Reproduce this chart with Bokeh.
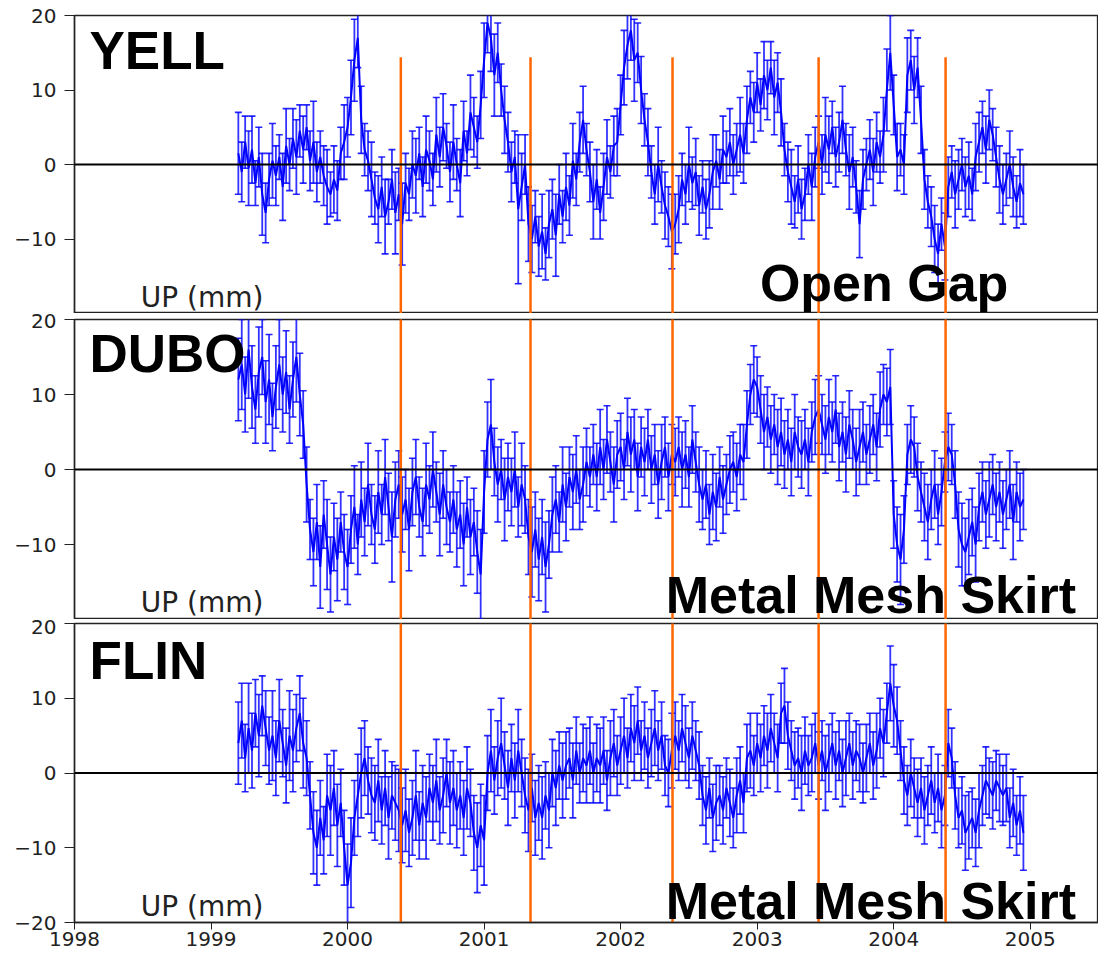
import numpy as np
from bokeh.plotting import figure
from bokeh.layouts import column
from bokeh.models import Range1d, FixedTicker, Span, Label
from bokeh.embed import file_html
from bokeh.resources import INLINE

# ---------------- data ----------------
T_START = 1999.20      # first epoch (decimal year)
T_STEP = 0.025         # sampling interval (years)

YELL_UP = [
    1.5, -1.0, 3.0, -0.5, 2.0, -2.5, 1.0, -4.0,
    -6.5, -2.0, 0.5, -1.5, 1.0, -3.0, 2.5, 0.0,
    3.5, 1.0, 4.5, 2.0, 5.0, 0.5, 3.0, -1.0,
    1.0, -1.5, -3.0, -4.0, -2.0, -3.5, 1.5, 3.0,
    5.0, 9.0, 14.0, 17.0, 6.0, 2.0, 0.5, -2.0,
    -4.5, -6.0, -3.0, -7.0, -5.0, -2.0, -6.5, -4.0,
    -8.0, -2.5, -4.0, 0.0, -1.5, 1.5, -3.0, 2.0,
    0.5, -2.0, 4.0, 1.0, 5.0, 2.5, -1.0, 3.0,
    0.0, -2.5, 4.5, 1.5, 7.0, 5.0, 3.0, 8.0,
    14.0, 19.0, 17.0, 12.0, 15.0, 10.0, 6.0, 3.0,
    -1.0, 1.0, -6.0, -3.0, 0.0, -8.0, -10.0, -7.0,
    -11.0, -9.0, -12.0, -8.0, -6.0, -9.5, -4.0, -7.0,
    -3.0, -5.5, 0.5, -2.0, 3.0, 6.0, 2.0, -1.0,
    -5.0, -2.0, -6.5, -3.0, 1.0, -1.0, 2.5, 3.0,
    8.0, 13.0, 16.0, 18.0, 14.0, 15.0, 10.0, 6.0,
    3.0, -1.0, -4.0, 0.0, -3.0, -5.5, -7.0, -9.0,
    -8.0, -6.0, -2.0, -4.0, 0.0, -2.5, -1.0, -5.5,
    -3.0, -6.0, -4.0, -1.0, 0.5, -2.0, 2.0, 1.0,
    3.0, 0.0, 2.0, 4.0, 1.5, 6.0, 9.0, 7.0,
    11.0, 8.0, 12.0, 10.0, 13.0, 9.0, 11.0, 7.0,
    2.0, -1.0, -3.0, -5.0, -2.0, -6.0, -4.0, 0.0,
    -3.0, 1.0, 3.0, 0.0, 4.0, 2.0, 5.0, 1.0,
    3.0, 6.0, 2.0, -1.0, 1.0, -3.0, -8.0, -2.0,
    0.0, 2.0, -1.0, 3.0, 1.0, 4.0, 10.0, 15.0,
    8.0, 1.0, 2.0, 0.0, 12.0, 14.0, 10.0, 13.0,
    6.0, -2.0, -5.0, -7.0, -10.0, -12.0, -8.0, -11.0,
    -3.0, -1.0, -4.0, -2.0, 0.0, -3.0, -1.5, -4.0,
    1.0, 3.0, 5.0, 2.0, 6.0, 4.0, 1.0, -2.0,
    -4.0, -2.0, 0.0, -3.0, -5.0, -2.5, -4.0,
]
YELL_ERR = [
    5.5, 4.0, 3.5, 5.0, 4.5, 3.0, 4.0, 5.5,
    4.0, 3.5, 5.0, 4.0, 3.0, 4.5, 5.0, 3.5,
    4.0, 5.0, 3.5, 4.5, 3.0, 4.0, 5.5, 4.0,
    3.5, 4.0, 5.0, 3.0, 4.5, 4.0, 3.5, 5.0,
    4.0, 5.0, 5.5, 4.0, 4.5, 3.5, 4.0, 5.0,
    3.5, 4.5, 4.0, 5.0, 3.0, 4.0, 5.5, 3.5,
    5.5, 4.0, 3.5, 4.5, 5.0, 3.5, 4.0, 4.5,
    4.0, 3.5, 5.0, 4.0, 4.5, 3.0, 4.0, 5.0,
    3.5, 4.5, 4.0, 3.0, 5.0, 4.0, 3.5, 4.5,
    5.0, 4.0, 4.5, 5.5, 4.0, 3.5, 4.5, 4.0,
    4.0, 3.5, 10.0, 4.5, 4.0, 5.0, 4.5, 3.5,
    4.0, 5.0, 3.5, 4.5, 4.0, 5.5, 4.0, 3.5,
    4.5, 4.0, 5.0, 3.5, 4.0, 4.5, 3.5, 4.0,
    5.0, 4.0, 3.5, 4.5, 5.0, 3.5, 4.0, 4.5,
    4.0, 5.0, 4.5, 4.0, 5.5, 4.0, 4.5, 3.5,
    4.5, 3.5, 4.0, 5.0, 3.5, 4.5, 4.0, 5.0,
    4.0, 4.5, 3.5, 4.0, 5.0, 3.5, 4.5, 4.0,
    3.5, 4.0, 4.5, 5.0, 3.5, 4.0, 4.5, 3.5,
    4.5, 4.0, 3.5, 5.0, 4.0, 4.5, 3.5, 4.0,
    4.0, 3.5, 4.5, 4.0, 3.5, 5.0, 4.0, 4.5,
    3.5, 4.0, 5.0, 3.5, 4.5, 4.0, 3.5, 4.0,
    4.5, 4.0, 3.5, 4.0, 5.0, 4.5, 3.5, 4.0,
    4.0, 4.5, 3.5, 5.0, 4.0, 3.5, 4.5, 4.0,
    3.5, 4.0, 4.5, 4.0, 3.5, 5.0, 5.5, 5.0,
    4.0, 4.5, 3.5, 4.0, 5.0, 4.0, 4.5, 4.0,
    4.5, 4.0, 3.5, 4.0, 4.5, 4.0, 3.5, 4.5,
    4.0, 3.5, 4.5, 4.0, 3.5, 4.0, 4.5, 3.5,
    4.5, 4.0, 3.5, 4.5, 4.0, 3.5, 4.0, 4.5,
    4.0, 3.5, 4.5, 4.0, 3.5, 4.5, 4.0,
]

DUBO_UP = [
    12.0, 14.0, 10.0, 16.0, 11.0, 8.0, 13.0, 15.0,
    9.0, 12.0, 7.0, 11.0, 14.0, 10.0, 13.0, 8.0,
    12.0, 15.0, 10.0, 6.0, -2.0, -8.0, -11.0, -7.0,
    -13.0, -6.0, -10.0, -14.0, -9.0, -12.0, -7.0, -11.0,
    -13.0, -8.0, -5.0, -10.0, -4.0, -7.0, -2.0, -6.0,
    -8.0, -3.0, -6.0, -1.0, -5.0, -9.0, -4.0, -2.0,
    -6.0, -4.0, -8.0, -3.0, -1.0, -5.0, -7.0, -2.0,
    -4.0, 0.0, -3.0, -6.0, -2.0, -5.0, -7.0, -4.0,
    -8.0, -6.0, -10.0, -5.0, -9.0, -7.0, -11.0, -14.0,
    -3.0, 4.0, 6.0, 1.0, -2.0, 0.0, -4.0, -1.0,
    -3.0, 0.0, -5.0, -2.0, -4.0, -9.0, -11.0, -8.0,
    -12.0, -9.0, -13.0, -10.0, -6.0, -4.0, -7.0, -2.0,
    -5.0, -1.0, -3.0, 0.0, -4.0, -2.0, 1.0, -1.0,
    2.0, -1.0, 3.0, 0.0, 4.0, 1.0, -2.0, 2.0,
    3.0, 0.0, 5.0, 2.0, 4.0, -1.0, 3.0, 1.0,
    4.0, 0.0, 2.0, -2.0, 1.0, 3.0, -1.0, 2.0,
    1.0, 3.0, 0.0, 2.0, -1.0, 4.0, 1.0, -2.0,
    -4.0, -2.0, -6.0, -3.0, -5.0, -1.0, -4.0, -2.0,
    0.0, 1.0, -1.0, 2.0, 1.0, 6.0, 10.0, 12.0,
    11.0, 8.0, 5.0, 7.0, 4.0, 6.0, 3.0, 5.0,
    2.0, 4.0, 1.0, 5.0, 3.0, 2.0, 4.0, 1.0,
    5.0, 7.0, 8.0, 6.0, 4.0, 7.0, 5.0, 8.0,
    3.0, 5.0, 2.0, 6.0, 4.0, 1.0, 3.0, 5.0,
    2.0, 4.0, 6.0, 3.0, 8.0, 10.0, 9.0, 11.0,
    -6.0, -10.0, -12.0, -8.0, 2.0, 4.0, 3.0, -1.0,
    -3.0, -5.0, -7.0, -4.0, -2.0, -6.0, -3.0, 1.0,
    3.0, 2.0, -2.0, -8.0, -10.0, -11.0, -9.0, -7.0,
    -10.0, -5.0, -3.0, -6.0, -4.0, -2.0, -5.0, -3.0,
    -6.0, -4.0, -2.0, -7.0, -3.0, -5.0, -4.0,
]
DUBO_ERR = [
    5.5, 6.0, 5.0, 6.5, 5.5, 4.5, 6.0, 5.0,
    5.5, 6.0, 4.5, 5.5, 6.0, 5.0, 5.5, 4.5,
    5.0, 6.0, 5.5, 4.5, 5.0, 4.0, 4.5, 5.0,
    5.5, 4.5, 6.0, 5.0, 4.5, 5.5, 4.0, 5.0,
    5.0, 4.5, 5.5, 4.0, 5.0, 4.5, 5.5, 4.0,
    4.5, 5.5, 4.0, 5.0, 4.5, 6.0, 5.0, 4.5,
    5.0, 4.0, 5.5, 4.5, 5.0, 4.0, 4.5, 5.5,
    4.5, 5.0, 4.0, 5.5, 4.5, 5.0, 4.0, 4.5,
    5.0, 4.5, 5.5, 4.0, 5.0, 4.5, 5.5, 6.0,
    5.5, 5.0, 6.0, 4.5, 5.0, 4.0, 5.5, 4.5,
    4.5, 5.0, 4.0, 5.5, 4.5, 5.0, 6.0, 5.0,
    5.5, 5.0, 6.0, 4.5, 5.0, 4.5, 4.0, 5.0,
    4.5, 4.0, 5.0, 4.5, 4.0, 5.0, 4.5, 4.0,
    4.0, 4.5, 5.0, 4.0, 4.5, 4.0, 5.0, 4.5,
    4.5, 4.0, 4.5, 5.0, 4.0, 4.5, 4.0, 4.5,
    4.0, 4.5, 4.0, 4.5, 5.0, 4.0, 4.5, 4.0,
    4.5, 4.0, 5.0, 4.5, 4.0, 4.5, 4.0, 5.0,
    4.0, 4.5, 4.0, 5.0, 4.5, 4.0, 4.5, 4.0,
    4.5, 4.0, 4.5, 4.0, 5.0, 4.5, 4.0, 4.5,
    4.0, 4.5, 5.0, 4.0, 4.5, 4.0, 5.0, 4.5,
    4.5, 4.0, 4.5, 5.0, 4.0, 4.5, 4.0, 4.5,
    4.0, 5.0, 4.5, 4.0, 4.5, 5.0, 4.0, 4.5,
    4.5, 4.0, 5.0, 4.5, 4.0, 4.5, 5.0, 4.0,
    4.0, 4.5, 4.0, 4.5, 5.0, 4.0, 4.5, 5.0,
    4.5, 5.0, 6.0, 4.5, 4.0, 4.5, 4.0, 4.5,
    4.0, 4.5, 5.0, 4.0, 4.5, 4.0, 4.5, 4.0,
    4.5, 4.0, 4.5, 5.0, 5.5, 4.5, 5.0, 4.5,
    5.0, 4.5, 4.0, 4.5, 5.0, 4.0, 4.5, 4.0,
    4.5, 4.0, 4.5, 5.0, 4.0, 4.5, 4.0,
]

FLIN_UP = [
    4.0, 7.0, 2.0, 6.0, 3.0, 8.0, 5.0, 9.0,
    6.0, 3.0, 5.0, 2.0, 7.0, 4.0, 1.0, 5.0,
    3.0, 6.0, 8.0, 4.0, 2.0, -3.0, -8.0, -10.0,
    -6.0, -9.0, -3.0, -5.0, -2.0, -7.0, -4.0, -10.0,
    -15.0, -12.0, -6.0, -3.0, 0.0, 2.0, -1.0, -3.0,
    -4.0, -1.0, -5.0, -2.0, -6.0, -3.0, -4.0, -5.0,
    -7.0, -5.0, -8.0, -6.0, -3.0, -7.0, -4.0, -6.0,
    -2.0, -4.0, -1.0, -5.0, -3.0, 0.0, -4.0, -2.0,
    -5.0, -3.0, -6.0, -2.0, -4.0, -8.0, -10.0, -7.0,
    -9.0, 0.0, 3.0, -1.0, 2.0, 4.0, 1.0, -2.0,
    2.0, -1.0, 3.0, 0.0, -3.0, -5.0, -2.0, -6.0,
    -4.0, -6.0, -3.0, -5.0, 0.0, -2.0, 1.0, -1.0,
    1.0, 2.0, -1.0, 3.0, 0.0, 2.0, 1.0, 3.0,
    0.0, 2.0, 1.0, 3.0, -1.0, 2.0, 4.0, 1.0,
    3.0, 5.0, 2.0, 6.0, 4.0, 7.0, 3.0, 5.0,
    2.0, 4.0, 6.0, 3.0, 5.0, 1.0, 0.0, 3.0,
    5.0, 3.0, 6.0, 4.0, 2.0, 5.0, 3.0, 1.0,
    -3.0, -5.0, -2.0, -6.0, -4.0, -3.0, -5.0, -2.0,
    -4.0, -6.0, -3.0, -1.0, -4.0, 2.0, 3.0, 1.0,
    4.0, 2.0, 5.0, 3.0, 6.0, 4.0, 2.0, 8.0,
    9.0, 5.0, 3.0, 1.0, 2.0, 0.0, 3.0, 1.0,
    2.0, 4.0, 1.0, 3.0, 0.0, 2.0, 4.0, 1.0,
    3.0, 0.0, 2.0, 4.0, 1.0, 3.0, 2.0, 0.0,
    2.0, 4.0, 1.0, 3.0, 6.0, 4.0, 8.0, 12.0,
    9.0, 7.0, 3.0, -1.0, -3.0, 0.0, -2.0, -4.0,
    -2.0, -5.0, -3.0, -1.0, -4.0, -2.0, -5.0, -3.0,
    4.0, 2.0, -3.0, -6.0, -5.0, -8.0, -7.0, -6.0,
    -8.0, -5.0, -3.0, -1.0, -2.0, -3.0, -1.0, -2.0,
    -3.0, -2.0, -6.0, -4.0, -7.0, -5.0, -8.0,
]
FLIN_ERR = [
    5.5, 5.0, 4.5, 6.0, 5.0, 4.5, 5.5, 4.0,
    5.0, 4.5, 6.0, 5.0, 5.5, 4.5, 5.0, 6.0,
    5.5, 4.5, 5.0, 6.0, 5.0, 4.5, 5.5, 5.0,
    5.0, 4.5, 5.5, 6.0, 5.0, 5.5, 4.5, 5.0,
    5.5, 6.0, 5.0, 5.5, 6.0, 5.0, 4.5, 5.0,
    5.0, 5.5, 4.5, 5.0, 5.5, 4.5, 5.0, 5.5,
    5.0, 5.5, 4.5, 5.0, 6.0, 4.5, 5.0, 5.5,
    4.5, 5.0, 5.5, 4.5, 5.0, 4.5, 5.5, 5.0,
    5.0, 4.5, 5.0, 5.5, 4.5, 5.0, 6.0, 5.5,
    6.0, 5.0, 5.5, 4.5, 5.0, 6.0, 4.5, 5.0,
    4.5, 5.0, 5.5, 4.5, 5.0, 5.5, 4.5, 5.0,
    5.0, 5.5, 4.5, 5.0, 4.5, 5.0, 4.5, 5.0,
    4.5, 4.0, 5.0, 4.5, 4.0, 4.5, 5.0, 4.5,
    4.0, 4.5, 5.0, 4.5, 4.0, 5.0, 4.5, 4.0,
    4.5, 5.0, 4.0, 4.5, 5.0, 4.5, 4.0, 4.5,
    4.0, 4.5, 5.0, 4.0, 4.5, 4.0, 4.5, 5.0,
    4.5, 4.0, 4.5, 5.0, 4.0, 4.5, 4.0, 4.5,
    4.0, 4.5, 4.0, 4.5, 5.0, 4.0, 4.5, 4.0,
    4.5, 4.0, 5.0, 4.5, 4.0, 4.5, 5.0, 4.0,
    4.0, 4.5, 4.0, 5.0, 4.5, 4.0, 4.5, 4.0,
    5.0, 4.5, 4.0, 4.5, 4.0, 5.0, 4.5, 4.0,
    4.5, 4.0, 4.5, 4.0, 5.0, 4.5, 4.0, 4.5,
    4.0, 4.5, 5.0, 4.0, 4.5, 4.0, 4.5, 4.0,
    4.5, 4.0, 4.5, 5.0, 4.0, 4.5, 4.0, 5.0,
    5.5, 4.5, 4.0, 4.5, 4.0, 4.5, 4.0, 4.5,
    4.0, 4.5, 4.0, 4.5, 4.0, 4.5, 5.0, 4.0,
    4.5, 4.0, 4.5, 4.0, 4.5, 5.0, 4.5, 4.0,
    4.5, 5.0, 4.0, 4.5, 4.0, 4.5, 4.0, 4.5,
    4.0, 4.5, 4.0, 4.5, 4.0, 4.5, 5.0,
]

STATIONS = ["YELL", "DUBO", "FLIN"]
NOTES = ["Open Gap", "Metal Mesh Skirt", "Metal Mesh Skirt"]
EVENTS = [2000.39, 2001.34, 2002.38, 2003.45, 2004.38]   # orange markers
X_TICKS = [1998, 1999, 2000, 2001, 2002, 2003, 2004, 2005]
Y_TICKS_LAST = [-20, -10, 0, 10, 20]
Y_TICKS_UPPER = [-10, 0, 10, 20]
Y_LABEL = "UP (mm)"

SERIES = {"YELL": (YELL_UP, YELL_ERR), "DUBO": (DUBO_UP, DUBO_ERR), "FLIN": (FLIN_UP, FLIN_ERR)}
for k, (u, e) in SERIES.items():
    assert len(u) == len(e), (k, len(u), len(e))

# ---------------- layout / styling ----------------
BLUE = "#0000ff"
ORANGE = "#ff6600"
TICK_FONT = "DejaVu Sans"
BOLD_FONT = "Liberation Sans"
FRAME_W = 1024
FRAME_H = [298, 300, 299]
TOP_BORDER = [15, 6, 4]
LEFT_BORDER = 74
EVENT_TOP_FIRST = 14.4
# text anchors (data units of each panel)
NAME_Y = [15.25, 15.45, 15.1]
UNIT_Y = [-17.8, -17.7, -17.9]
NOTE_Y = [-15.9, -16.75, -17.15]
NOTE_X = [2003.02, 2002.33, 2002.33]


def make_panel(i):
    name = STATIONS[i]
    up, err = SERIES[name]
    up = np.array(up)
    err = np.array(err)
    t = T_START + T_STEP * np.arange(len(up))
    last = i == len(STATIONS) - 1

    p = figure(frame_width=FRAME_W, frame_height=FRAME_H[i],
               x_range=Range1d(1998, 2005.5), y_range=Range1d(-20, 20),
               output_backend="svg", toolbar_location=None,
               x_axis_location="below" if last else None,
               min_border_left=LEFT_BORDER, min_border_right=0,
               min_border_top=TOP_BORDER[i], min_border_bottom=0)
    p.grid.visible = False
    p.outline_line_color = "#222222"
    p.outline_line_width = 1.3
    p.background_fill_color = "white"
    p.border_fill_color = "white"

    ya = p.yaxis[0]
    ya.ticker = FixedTicker(ticks=Y_TICKS_LAST if last else Y_TICKS_UPPER)
    ya.major_label_text_font = TICK_FONT
    ya.major_label_text_font_size = "20px"
    ya.major_label_text_color = "#222222"
    ya.major_tick_out = 10
    ya.major_tick_in = 0
    ya.minor_tick_out = 0
    ya.minor_tick_in = 0
    ya.major_label_standoff = 8
    ya.axis_line_color = "#222222"
    ya.axis_line_width = 1.5
    ya.major_tick_line_color = "#222222"

    if last:
        xa = p.xaxis[0]
        xa.ticker = FixedTicker(ticks=X_TICKS)
        xa.minor_tick_out = 0
        xa.minor_tick_in = 0
        xa.axis_line_color = "#222222"
        xa.axis_line_width = 1.5
        xa.major_tick_line_color = "#222222"
        xa.major_label_text_font = TICK_FONT
        xa.major_label_text_font_size = "20px"
        xa.major_label_text_color = "#222222"
        xa.major_tick_out = 7
        xa.major_tick_in = 0
        xa.major_label_standoff = 2

    p.add_layout(Span(location=0, dimension="width", line_color="black", line_width=2.2))

    p.segment(t, up - err, t, up + err, line_color=BLUE, line_width=1.8, line_alpha=0.8)
    p.dash(t, up - err, size=7, angle=0, line_color=BLUE, line_width=1.6, line_alpha=0.85)
    p.dash(t, up + err, size=7, angle=0, line_color=BLUE, line_width=1.6, line_alpha=0.85)
    p.line(t, up, line_color=BLUE, line_width=2.0)

    ev = np.array(EVENTS)
    y_top = np.full(len(ev), EVENT_TOP_FIRST if i == 0 else 25.0)
    p.segment(ev, y_top, ev, np.full(len(ev), -25.0), line_color=ORANGE, line_width=2.5)

    p.add_layout(Label(x=1998.11, y=NAME_Y[i], text=name, text_font=BOLD_FONT,
                       text_font_style="bold", text_font_size="53px",
                       text_color="black", text_baseline="alphabetic"))
    p.add_layout(Label(x=1998.485, y=UNIT_Y[i], text=Y_LABEL,
                       text_font=TICK_FONT, text_font_size="28px",
                       text_color="#222222", text_baseline="alphabetic"))
    p.add_layout(Label(x=NOTE_X[i], y=NOTE_Y[i], text=NOTES[i],
                       text_font=BOLD_FONT, text_font_style="bold",
                       text_font_size="52px", text_color="black",
                       text_baseline="alphabetic"))
    return p


panels = [make_panel(i) for i in range(len(STATIONS))]
layout = column(*panels, spacing=0)

open("out.html", "w").write(file_html(layout, INLINE))
